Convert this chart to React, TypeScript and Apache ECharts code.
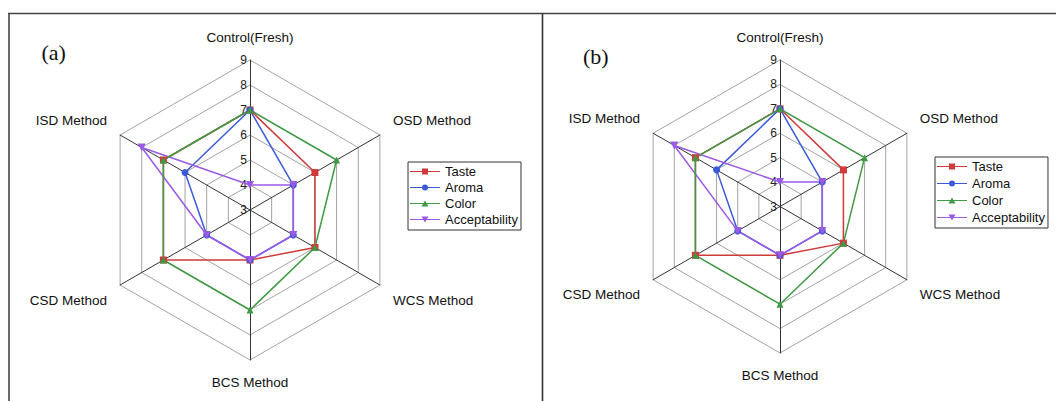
import React, { useEffect, useRef } from "react";
import * as echarts from "echarts";

// Indicator order follows ECharts' counter-clockwise placement
const categories = ["Control(Fresh)", "ISD Method", "CSD Method", "BCS Method", "WCS Method", "OSD Method"];
const seriesNames = ["Taste", "Aroma", "Color", "Acceptability"];
const axisMin = 3;
const axisMax = 9;

// Panel (a)
const tasteA = [7, 7, 7, 5, 6, 6];
const aromaA = [7, 6, 5, 5, 5, 5];
const colorA = [7, 7, 7, 7, 6, 7];
const acceptA = [4, 8, 5, 5, 5, 5];

// Panel (b)
const tasteB = [7, 7, 7, 5, 6, 6];
const aromaB = [7, 6, 5, 5, 5, 5];
const colorB = [7, 7, 7, 7, 6, 7];
const acceptB = [4, 8, 5, 5, 5, 5];

const panelLabels = ["(a)", "(b)"];

const COLORS: Record<string, string> = {
  Taste: "#d03a3a",
  Aroma: "#3a5ad8",
  Color: "#3f9a45",
  Acceptability: "#9b5ae6",
};
const SYMBOLS: Record<string, string> = {
  Taste: "rect",
  Aroma: "circle",
  Color: "triangle",
  Acceptability: "path://M0,0L2,0L1,1.7z",
};
const ICONS: Record<string, string> = {
  Taste: "path://M0,3.5h30v1H0z M12,1h6v6h-6z",
  Aroma: "path://M0,3.5h30v1H0z M12,4a3,3 0 1,1 6,0a3,3 0 1,1 -6,0z",
  Color: "path://M0,3.5h30v1H0z M11.5,7L15,1L18.5,7z",
  Acceptability: "path://M0,3.5h30v1H0z M11.5,1L18.5,1L15,7z",
};

const upperSide = ["ISD Method", "OSD Method"];
const lowerSide = ["CSD Method", "WCS Method"];

function makeRadar(cx: number, cy: number, r: number) {
  return {
    center: [cx, cy],
    radius: r,
    shape: "polygon",
    splitNumber: axisMax - axisMin,
    nameGap: 15,
    axisName: {
      color: "#111",
      fontSize: 13.5,
      fontFamily: "Liberation Sans",
      lineHeight: 15,
      formatter: (name: string) =>
        upperSide.includes(name) ? name + "\n " : lowerSide.includes(name) ? " \n" + name : name,
    },
    indicator: categories.map((name, i) => ({
      name,
      min: axisMin,
      max: axisMax,
      ...(i === 0
        ? {
            axisLabel: {
              show: true,
              color: "#222",
              fontSize: 12,
              fontFamily: "Liberation Sans",
              margin: 3,
              showMinLabel: true,
              showMaxLabel: true,
            },
          }
        : {}),
    })),
    axisLine: { show: true, lineStyle: { color: "#333", width: 1 } },
    axisTick: { show: false },
    axisLabel: { show: false },
    splitLine: { show: true, lineStyle: { color: "#a3a3a3", width: 1 } },
    splitArea: { show: false },
  };
}

function makeSeries(radarIndex: number, dataMap: Record<string, number[]>) {
  const drawOrder = ["Taste", "Aroma", "Acceptability", "Color"];
  return drawOrder.map((name) => ({
    type: "radar",
    radarIndex,
    name,
    symbol: SYMBOLS[name],
    symbolSize: name === "Acceptability" ? 8 : 7,
    lineStyle: { color: COLORS[name], width: 1.5 },
    itemStyle: { color: COLORS[name] },
    data: [{ name, value: dataMap[name] }],
  }));
}

function makeLegend(left: number, top: number, gap: number) {
  return {
    orient: "vertical",
    left,
    top,
    align: "left",
    itemWidth: 30,
    itemHeight: 8,
    itemGap: gap,
    padding: [3, 3, 4, 2],
    borderColor: "#333",
    borderWidth: 1,
    backgroundColor: "#fff",
    textStyle: { color: "#111", fontSize: 13, fontFamily: "Liberation Sans" },
    data: seriesNames.map((n) => ({ name: n, icon: ICONS[n] })),
  };
}

export default function App() {
  const ref = useRef<HTMLDivElement>(null);
  useEffect(() => {
    if (!ref.current) return;
    const chart = echarts.init(ref.current, undefined, { renderer: "svg" });
    const option = {
      animation: false,
      backgroundColor: "#fff",
      radar: [makeRadar(250, 210, 150), makeRadar(780, 206.5, 146.5)],
      legend: [makeLegend(408, 162, 3), makeLegend(935, 157, 4)],
      series: [
        ...makeSeries(0, { Taste: tasteA, Aroma: aromaA, Color: colorA, Acceptability: acceptA }),
        ...makeSeries(1, { Taste: tasteB, Aroma: aromaB, Color: colorB, Acceptability: acceptB }),
      ],
      graphic: [
        { type: "line", shape: { x1: 8, y1: 13.5, x2: 1056, y2: 13.5 }, style: { stroke: "#444", lineWidth: 1.3 } },
        { type: "line", shape: { x1: 9, y1: 13, x2: 9, y2: 401 }, style: { stroke: "#444", lineWidth: 1.6 } },
        { type: "line", shape: { x1: 542.5, y1: 13, x2: 542.5, y2: 401 }, style: { stroke: "#333", lineWidth: 1.6 } },
        {
          type: "text",
          x: 41.5,
          y: 52.5,
          style: { text: panelLabels[0], fontSize: 22, fontFamily: "Liberation Serif", fill: "#111", verticalAlign: "middle" },
        },
        {
          type: "text",
          x: 583,
          y: 56,
          style: { text: panelLabels[1], fontSize: 22, fontFamily: "Liberation Serif", fill: "#111", verticalAlign: "middle" },
        },
      ],
    };
    chart.setOption(option as any);
    return () => chart.dispose();
  }, []);
  return (
    <div
      ref={ref}
      style={{ position: "fixed", left: 0, top: 0, width: 1056, height: 401 }}
    />
  );
}
